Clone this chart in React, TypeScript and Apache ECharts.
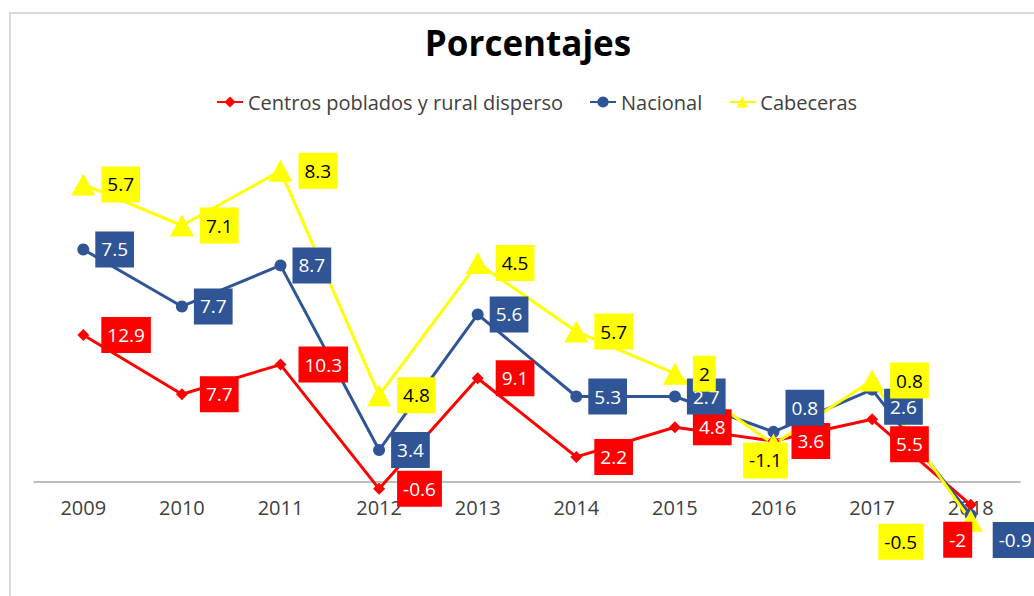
import React, { useEffect, useRef } from "react";
import * as echarts from "echarts";

const years = ["2009", "2010", "2011", "2012", "2013", "2014", "2015", "2016", "2017", "2018"];
const centros = [12.9, 7.7, 10.3, -0.6, 9.1, 2.2, 4.8, 3.6, 5.5, -2];
const nacional = [7.5, 7.7, 8.7, 3.4, 5.6, 5.3, 2.7, 0.8, 2.6, -0.9];
const cabeceras = [5.7, 7.1, 8.3, 4.8, 4.5, 5.7, 2, -1.1, 0.8, -0.5];

const Y_MIN = -8;
const Y_MAX = 30;

// label placement tweaks (index -> [position, offset])
const centrosLabelAdj: Record<number, [string, number[]]> = {
  8: ["right", [0, 25]],
  9: ["inside", [-13, 35]],
};
const nacionalLabelAdj: Record<number, [string, number[]]> = {
  7: ["right", [0, -24]],
  8: ["right", [0, 17]],
  9: ["right", [10, 25]],
};
const cabecerasLabelAdj: Record<number, [string, number[]]> = {
  7: ["inside", [-8, 16]],
  9: ["inside", [-70, 21]],
};

const FONT = "'Open Sans', sans-serif";

function buildData(values: number[], adj: Record<number, [string, number[]]>) {
  return values.map((v, i) => {
    const a = adj[i];
    if (!a) return v;
    return { value: v, label: { position: a[0], offset: a[1] } };
  });
}

export default function App() {
  const ref = useRef<HTMLDivElement>(null);
  useEffect(() => {
    if (!ref.current) return;
    const chart = echarts.init(ref.current, undefined, { renderer: "svg" });
    const labelBase = {
      show: true,
      position: "right",
      fontSize: 19,
      fontFamily: FONT,
      padding: [9, 6, 8, 6],
    };
    chart.setOption({
      animation: false,
      backgroundColor: "#ffffff",
      title: {
        text: "Porcentajes",
        left: 523,
        textAlign: "center",
        top: 20,
        textStyle: { fontSize: 35, fontWeight: "bold", color: "#000000", fontFamily: FONT },
      },
      legend: {
        left: 211,
        top: 87,
        itemWidth: 26,
        itemHeight: 14,
        itemGap: 26,
        textStyle: { fontSize: 20, color: "#404040", fontFamily: FONT },
        data: ["Centros poblados y rural disperso", "Nacional", "Cabeceras"],
      },
      graphic: [
        {
          type: "rect",
          shape: { x: 10, y: 13, width: 1200, height: 800 },
          style: { fill: "none", stroke: "#D0D0D0", lineWidth: 1.5 },
          silent: true,
        },
      ],
      grid: {
        left: 34,
        right: 14,
        top: 140,
        bottom: 22.8,
        containLabel: false,
        outerBoundsMode: "none",
      },
      xAxis: {
        type: "category",
        data: years,
        axisTick: { show: false },
        axisLine: { onZero: false, lineStyle: { color: "#A6A6A6", width: 1.5 } },
        axisLabel: { color: "#404040", fontSize: 20, fontFamily: FONT, margin: 15 },
      },
      yAxis: { type: "value", show: false, min: Y_MIN, max: Y_MAX, splitLine: { show: false } },
      series: [
        {
          name: "Centros poblados y rural disperso",
          type: "line",
          stack: "total",
          stackStrategy: "all",
          data: buildData(centros, centrosLabelAdj),
          color: "#FF0000",
          symbol: "diamond",
          symbolSize: 12,
          lineStyle: { width: 3, color: "#FF0000" },
          itemStyle: { color: "#FF0000" },
          label: { ...labelBase, distance: 12, color: "#ffffff", backgroundColor: "#FF0000" },
          z: 3,
        },
        {
          name: "Nacional",
          type: "line",
          stack: "total",
          stackStrategy: "all",
          data: buildData(nacional, nacionalLabelAdj),
          color: "#2F5597",
          symbol: "circle",
          symbolSize: 12,
          lineStyle: { width: 3, color: "#2F5597" },
          itemStyle: { color: "#2F5597" },
          label: { ...labelBase, distance: 6, color: "#ffffff", backgroundColor: "#2F5597" },
          z: 3,
        },
        {
          name: "Cabeceras",
          type: "line",
          stack: "total",
          stackStrategy: "all",
          data: buildData(cabeceras, cabecerasLabelAdj),
          color: "#FFFF00",
          symbol: "triangle",
          symbolSize: [24, 22],
          lineStyle: { width: 3, color: "#FFFF00" },
          itemStyle: { color: "#FFFF00" },
          label: { ...labelBase, distance: 6, color: "#000000", backgroundColor: "#FFFF00" },
          z: 3,
        },
      ],
    });
    // place the category axis on the zero line (derived from the y scale)
    const zeroPx = chart.convertToPixel({ yAxisIndex: 0 }, 0) as number;
    const bottomPx = chart.convertToPixel({ yAxisIndex: 0 }, Y_MIN) as number;
    chart.setOption({ xAxis: { offset: zeroPx - bottomPx } });
    return () => chart.dispose();
  }, []);
  return (
    <div
      ref={ref}
      style={{ position: "fixed", left: 0, top: 0, width: 1034, height: 596, background: "#fff" }}
    />
  );
}
